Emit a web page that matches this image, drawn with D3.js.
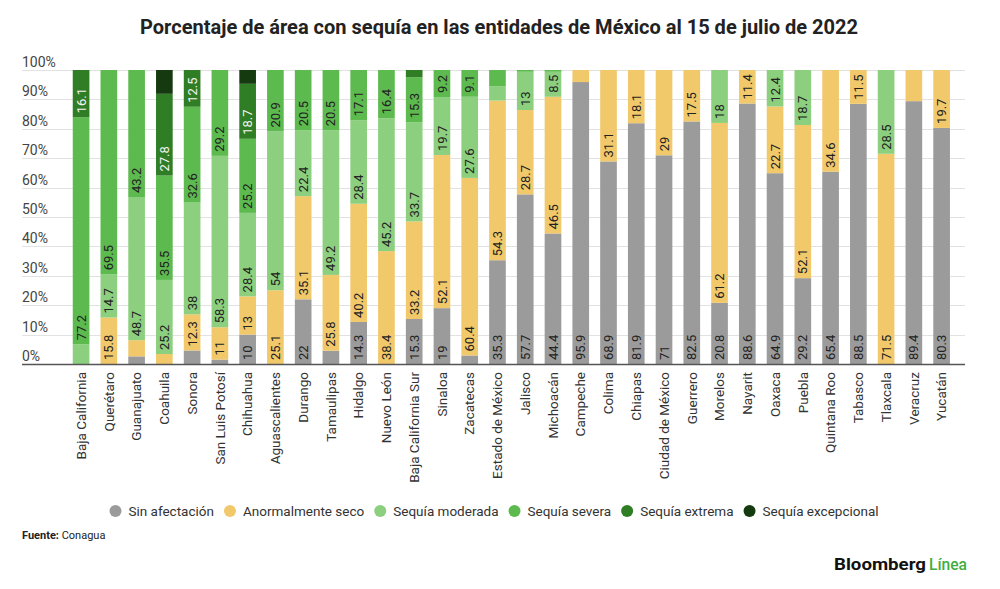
<!DOCTYPE html>
<html>
<head>
<meta charset="utf-8">
<script src="https://cdn.jsdelivr.net/npm/d3@7"></script>
<style>
  body { margin: 0; background: #fff; }
  svg { font-family: Roboto, "Noto Sans", sans-serif; display: block; }
</style>
</head>
<body>
<script>
// Porcentaje de área con sequía por entidad (15 jul 2022)
const states = ["Baja California","Querétaro","Guanajuato","Coahuila","Sonora","San Luis Potosí","Chihuahua","Aguascalientes","Durango","Tamaulipas","Hidalgo","Nuevo León","Baja California Sur","Sinaloa","Zacatecas","Estado de México","Jalisco","Michoacán","Campeche","Colima","Chiapas","Ciudad de México","Guerrero","Morelos","Nayarit","Oaxaca","Puebla","Quintana Roo","Tabasco","Tlaxcala","Veracruz","Yucatán"];

const sinAfectacion     = [0,0,2.6,0,4.6,1.5,10,0,22,4.5,14.3,0,15.3,19,2.9,35.3,57.7,44.4,95.9,68.9,81.9,71,82.5,20.8,88.6,64.9,29.2,65.4,88.5,0,89.4,80.3];
const anormalmenteSeco  = [0,15.8,5.5,3.4,12.3,11,13,25.1,35.1,25.8,40.2,38.4,33.2,52.1,60.4,54.3,28.7,46.5,4.1,31.1,18.1,29,17.5,61.2,11.4,22.7,52.1,34.6,11.5,71.5,10.6,19.7];
const sequiaModerada    = [6.7,14.7,48.7,25.2,38,58.3,28.4,54,22.4,49.2,28.4,45.2,33.7,19.7,27.6,4.9,13,8.5,0,0,0,0,0,18,0,12.4,18.7,0,0,28.5,0,0];
const sequiaSevera      = [77.2,69.5,43.2,35.5,32.6,29.2,25.2,20.9,20.5,20.5,17.1,16.4,15.3,9.2,9.1,5.5,0.6,0.6,0,0,0,0,0,0,0,0,0,0,0,0,0,0];
const sequiaExtrema     = [16.1,0,0,27.8,12.5,0,18.7,0,0,0,0,0,2.5,0,0,0,0,0,0,0,0,0,0,0,0,0,0,0,0,0,0,0];
const sequiaExcepcional = [0,0,0,8.1,0,0,4.7,0,0,0,0,0,0,0,0,0,0,0,0,0,0,0,0,0,0,0,0,0,0,0,0,0];

const seriesNames = ["Sin afectación","Anormalmente seco","Sequía moderada","Sequía severa","Sequía extrema","Sequía excepcional"];
const seriesValues = [sinAfectacion, anormalmenteSeco, sequiaModerada, sequiaSevera, sequiaExtrema, sequiaExcepcional];
const seriesColors = ["#9b9b9b","#f1c96b","#8ccf7e","#5dba4f","#2f7d24","#163a0f"];
const yTicks = [0,10,20,30,40,50,60,70,80,90,100];

const W = 1000, H = 589;
const svg = d3.select("body").append("svg").attr("width", W).attr("height", H);

// rows for d3.stack
const rows = states.map((s, i) => {
  const r = { state: s };
  seriesNames.forEach((k, j) => r[k] = seriesValues[j][i]);
  return r;
});
const stacked = d3.stack().keys(seriesNames)(rows);

const gridLeft = 22, gridRight = 965;
const y = d3.scaleLinear().domain([0, 100]).range([364, 70]);
const x = d3.scaleBand().domain(states).range([67.2, 955.5]).paddingInner(0.4).paddingOuter(0.2);

// title
svg.append("text")
  .attr("x", 499).attr("y", 34)
  .attr("text-anchor", "middle")
  .attr("textLength", 718).attr("lengthAdjust", "spacingAndGlyphs")
  .style("font-size", "20px").style("font-weight", 700).attr("fill", "#222")
  .text("Porcentaje de área con sequía en las entidades de México al 15 de julio de 2022");

// grid + y labels
const grid = svg.append("g");
grid.selectAll("line").data(yTicks).enter().append("line")
  .attr("x1", gridLeft).attr("x2", gridRight)
  .attr("y1", d => Math.round(y(d)) + 0.5).attr("y2", d => Math.round(y(d)) + 0.5)
  .attr("stroke", "#e2e2e2").attr("stroke-width", 1);
grid.selectAll("text").data(yTicks).enter().append("text")
  .attr("x", gridLeft).attr("y", d => y(d) - 3)
  .style("font-size", "14px").attr("fill", "#444")
  .text(d => d + "%");

// bars
const layers = svg.append("g").selectAll("g").data(stacked).enter().append("g")
  .attr("fill", (d, i) => seriesColors[i]);
layers.selectAll("rect").data(d => d).enter().append("rect")
  .attr("x", d => x(d.data.state))
  .attr("width", x.bandwidth())
  .attr("y", d => y(d[1]))
  .attr("height", d => Math.max(0, y(d[0]) - y(d[1])));

// value labels, only where they fit
const labelG = svg.append("g");
stacked.forEach((layer, i) => {
  layer.forEach(d => {
    const v = d[1] - d[0];
    if (v <= 0) return;
    const cx = x(d.data.state) + x.bandwidth() / 2;
    const yb = y(d[0]) - 4;
    const t = labelG.append("text")
      .attr("transform", `translate(${cx},${yb}) rotate(-90)`)
      .attr("dy", "0.35em")
      .style("font-size", "13px")
      .attr("fill", i >= 4 ? "#f4f4f4" : "#222")
      .text(seriesValues[i][states.indexOf(d.data.state)]);
    const segH = y(d[0]) - y(d[1]);
    if (t.node().getComputedTextLength() + 6.5 > segH) t.remove();
  });
});

// baseline
svg.append("line")
  .attr("x1", gridLeft).attr("x2", gridRight)
  .attr("y1", y(0) + 0.5).attr("y2", y(0) + 0.5)
  .attr("stroke", "#555").attr("stroke-width", 1.5);

// x labels
svg.append("g").selectAll("text").data(states).enter().append("text")
  .attr("transform", d => `translate(${x(d) + x.bandwidth() / 2},${y(0) + 8}) rotate(-90)`)
  .attr("dy", "0.35em")
  .attr("text-anchor", "end")
  .style("font-size", "13.5px").attr("fill", "#333")
  .text(d => d);

// legend
const legend = svg.append("g");
let lx = 0;
seriesNames.forEach((name, i) => {
  const g = legend.append("g").attr("transform", `translate(${lx},0)`);
  g.append("circle").attr("cx", 6).attr("cy", 0).attr("r", 6).attr("fill", seriesColors[i]);
  const t = g.append("text").attr("x", 19).attr("dy", "0.35em")
    .style("font-size", "13.5px").attr("fill", "#333").text(name);
  lx += 19 + t.node().getComputedTextLength() + 10;
});
const legW = lx - 10;
legend.attr("transform", `translate(${494 - legW / 2},511)`);

// source
svg.append("text").attr("x", gridLeft).attr("y", 539)
  .style("font-size", "11px").attr("fill", "#222")
  .call(t => {
    t.append("tspan").style("font-weight", 700).text("Fuente: ");
    t.append("tspan").text("Conagua");
  });

// logo
svg.append("text").attr("x", 834).attr("y", 570)
  .attr("textLength", 92).attr("lengthAdjust", "spacingAndGlyphs")
  .style("font-size", "17px").style("font-weight", 700).attr("fill", "#111")
  .text("Bloomberg");
svg.append("text").attr("x", 929).attr("y", 570)
  .attr("textLength", 38).attr("lengthAdjust", "spacingAndGlyphs")
  .style("font-size", "17px").style("font-weight", 500).attr("fill", "#3fae3f")
  .text("Línea");
</script>
</body>
</html>
